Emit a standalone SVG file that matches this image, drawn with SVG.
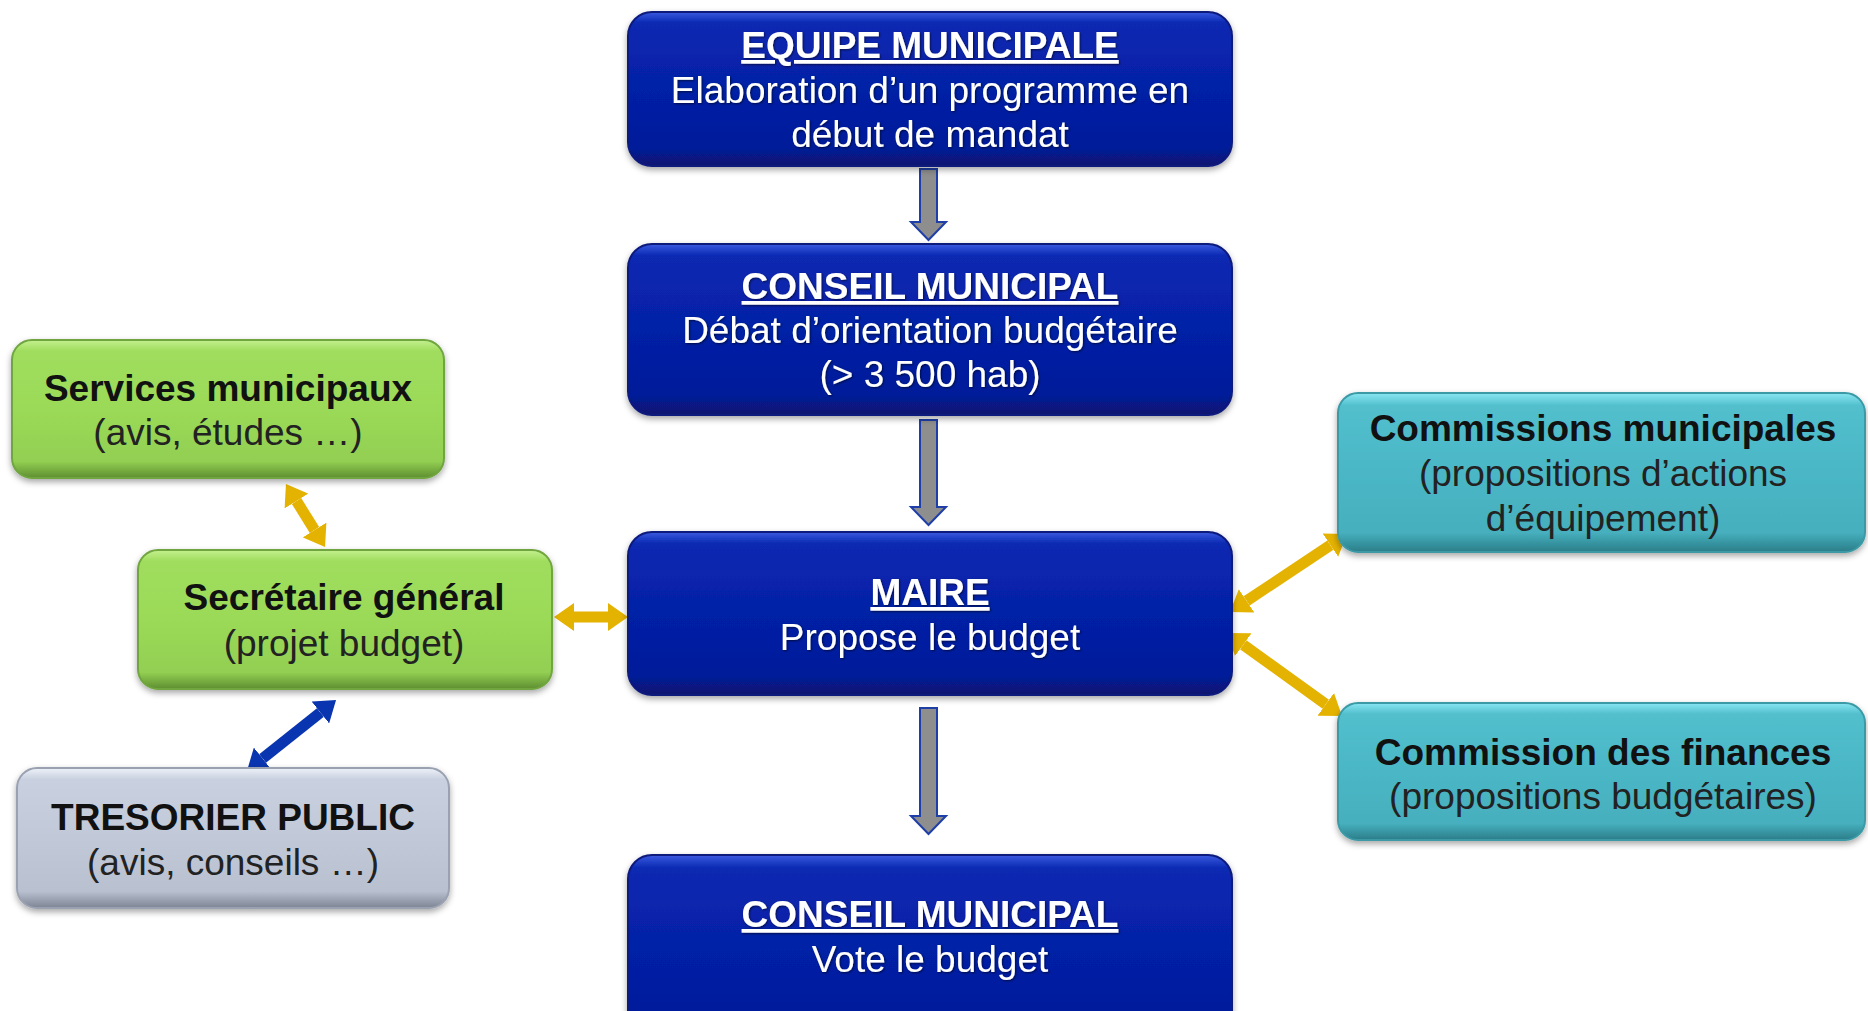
<svg xmlns="http://www.w3.org/2000/svg" width="1868" height="1011" viewBox="0 0 1868 1011">
<defs>
  <linearGradient id="gBlue" x1="0" y1="0" x2="0" y2="1">
    <stop offset="0" stop-color="#3a5ae0"/>
    <stop offset="0.07" stop-color="#0a29b2"/>
    <stop offset="0.5" stop-color="#0520a6"/>
    <stop offset="0.88" stop-color="#041c9a"/>
    <stop offset="1" stop-color="#0a166e"/>
  </linearGradient>
  <linearGradient id="gGreen" x1="0" y1="0" x2="0" y2="1">
    <stop offset="0" stop-color="#c4f08e"/>
    <stop offset="0.08" stop-color="#a0dd5e"/>
    <stop offset="0.5" stop-color="#9bda58"/>
    <stop offset="0.88" stop-color="#92cf52"/>
    <stop offset="1" stop-color="#5e8e30"/>
  </linearGradient>
  <linearGradient id="gTeal" x1="0" y1="0" x2="0" y2="1">
    <stop offset="0" stop-color="#8ae6f2"/>
    <stop offset="0.08" stop-color="#52bfcd"/>
    <stop offset="0.5" stop-color="#4bb7c6"/>
    <stop offset="0.88" stop-color="#46afbd"/>
    <stop offset="1" stop-color="#2a7d88"/>
  </linearGradient>
  <linearGradient id="gGray" x1="0" y1="0" x2="0" y2="1">
    <stop offset="0" stop-color="#eef2f8"/>
    <stop offset="0.08" stop-color="#c9d1e0"/>
    <stop offset="0.5" stop-color="#c1c9d9"/>
    <stop offset="0.88" stop-color="#b9c1d1"/>
    <stop offset="1" stop-color="#7d8494"/>
  </linearGradient>
  <filter id="shadow" x="-10%" y="-10%" width="120%" height="130%">
    <feDropShadow dx="0" dy="3" stdDeviation="3" flood-color="#000" flood-opacity="0.35"/>
  </filter>
  <filter id="tshadow" x="-5%" y="-20%" width="110%" height="150%">
    <feDropShadow dx="1" dy="1" stdDeviation="0.8" flood-color="#000" flood-opacity="0.6"/>
  </filter>
  <marker id="hGold" viewBox="0 -14 20 28" refX="0" refY="0" markerWidth="20" markerHeight="28" markerUnits="userSpaceOnUse" orient="auto-start-reverse">
    <path d="M0,-14 L20,0 L0,14 Z" fill="#e4b200"/>
  </marker>
  <marker id="hBlue" viewBox="0 -14 20 28" refX="0" refY="0" markerWidth="20" markerHeight="28" markerUnits="userSpaceOnUse" orient="auto-start-reverse">
    <path d="M0,-14 L20,0 L0,14 Z" fill="#0a35b0"/>
  </marker>
  <style>
    .bx { stroke-width: 2; filter: url(#shadow); }
    .blue { fill: url(#gBlue); stroke: #0b1a7c; }
    .green { fill: url(#gGreen); stroke: #6fa540; }
    .teal { fill: url(#gTeal); stroke: #3a9aa6; }
    .gray { fill: url(#gGray); stroke: #9aa2b2; }
    text { font-family: "Liberation Sans", Arial, sans-serif; font-size: 37px; text-anchor: middle; }
    .w { fill: #ffffff; filter: url(#tshadow); }
    .k { fill: #111111; }
    .kt { font-weight: bold; }
    .wt { font-weight: bold; text-decoration: underline; }
    .sub { fill: #222222; }
    .gold { stroke: #e4b200; stroke-width: 11; fill: none; marker-start: url(#hGold); marker-end: url(#hGold); }
    .bl { stroke: #0a35b0; stroke-width: 11; fill: none; marker-start: url(#hBlue); marker-end: url(#hBlue); }
    .down { fill: #8e8e8e; stroke: #1f3fa8; stroke-width: 2; stroke-linejoin: miter; }
  </style>
</defs>

<g id="connectors">
  <polygon class="down" points="920,169 937,169 937,222 946,222 928.5,240 911,222 920,222"/>
  <polygon class="down" points="920,420 937,420 937,507 946,507 928.5,525 911,507 920,507"/>
  <polygon class="down" points="920,708 937,708 937,816 946,816 928.5,834 911,816 920,816"/>
  <line class="gold" x1="296.5" y1="501" x2="314.5" y2="530"/>
  <line class="gold" x1="574" y1="617" x2="608" y2="617"/>
  <line class="bl" x1="262.6" y1="758.5" x2="320.4" y2="712.5"/>
  <line class="gold" x1="1246.6" y1="600.9" x2="1330.4" y2="545.1"/>
  <line class="gold" x1="1243.2" y1="644.7" x2="1325.8" y2="704.3"/>
</g>

<g id="equipe">
  <rect class="bx blue" x="628" y="12" width="604" height="154" rx="24"/>
  <text class="w wt" x="930" y="58">EQUIPE MUNICIPALE</text>
  <text class="w" x="930" y="103">Elaboration d’un programme en</text>
  <text class="w" x="930" y="147">début de mandat</text>
</g>

<g id="conseil1">
  <rect class="bx blue" x="628" y="244" width="604" height="171" rx="24"/>
  <text class="w wt" x="930" y="299">CONSEIL MUNICIPAL</text>
  <text class="w" x="930" y="343">Débat d’orientation budgétaire</text>
  <text class="w" x="930" y="387">(&gt; 3 500 hab)</text>
</g>

<g id="maire">
  <rect class="bx blue" x="628" y="532" width="604" height="163" rx="24"/>
  <text class="w wt" x="930" y="605">MAIRE</text>
  <text class="w" x="930" y="650">Propose le budget</text>
</g>

<g id="conseil2">
  <rect class="bx blue" x="628" y="855" width="604" height="190" rx="24"/>
  <text class="w wt" x="930" y="927">CONSEIL MUNICIPAL</text>
  <text class="w" x="930" y="972">Vote le budget</text>
</g>

<g id="services">
  <rect class="bx green" x="12" y="340" width="432" height="138" rx="20"/>
  <text class="k kt" x="228" y="401">Services municipaux</text>
  <text class="sub" x="228" y="445">(avis, études …)</text>
</g>

<g id="secretaire">
  <rect class="bx green" x="138" y="550" width="414" height="139" rx="20"/>
  <text class="k kt" x="344" y="610">Secrétaire général</text>
  <text class="sub" x="344" y="656">(projet budget)</text>
</g>

<g id="tresorier">
  <rect class="bx gray" x="17" y="768" width="432" height="140" rx="20"/>
  <text class="k kt" x="233" y="830">TRESORIER PUBLIC</text>
  <text class="sub" x="233" y="875">(avis, conseils …)</text>
</g>

<g id="commissions">
  <rect class="bx teal" x="1338" y="393" width="527" height="159" rx="20"/>
  <text class="k kt" x="1603" y="441">Commissions municipales</text>
  <text class="sub" x="1603" y="486">(propositions d’actions</text>
  <text class="sub" x="1603" y="531">d’équipement)</text>
</g>

<g id="finances">
  <rect class="bx teal" x="1338" y="703" width="527" height="137" rx="20"/>
  <text class="k kt" x="1603" y="765">Commission des finances</text>
  <text class="sub" x="1603" y="809">(propositions budgétaires)</text>
</g>
</svg>
